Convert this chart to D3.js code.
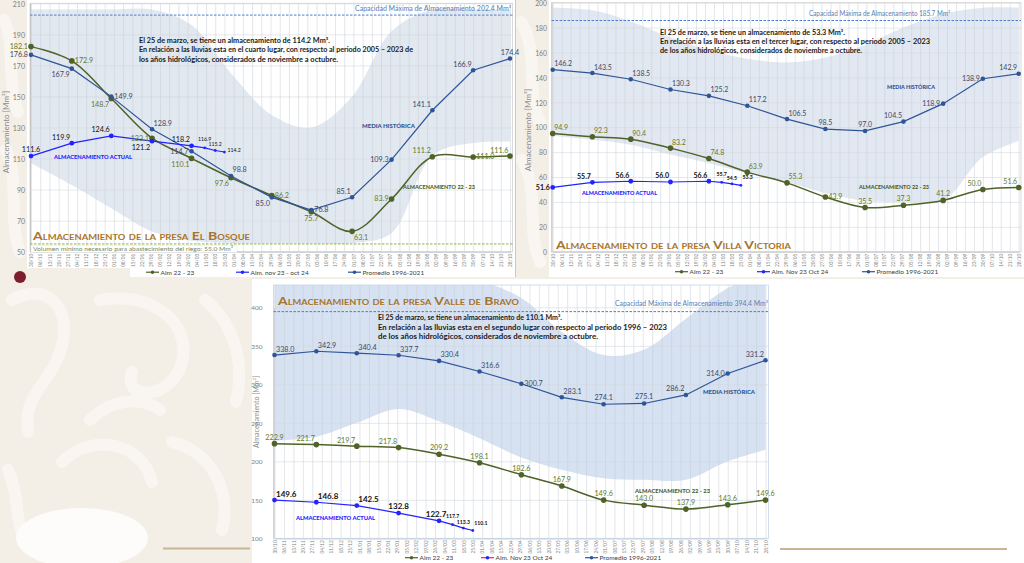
<!DOCTYPE html>
<html lang="es"><head><meta charset="utf-8">
<script src="https://cdn.jsdelivr.net/npm/d3@7/dist/d3.min.js"></script>
<style>
html,body{margin:0;padding:0;background:#f3eee6;}
svg{display:block;font-family:Lato,"Noto Sans",sans-serif;}
</style></head><body>
<svg id="chart" width="1024" height="563"></svg>
<script>
// ---------------- DATA ----------------
const xTickLabels = ["30/10","06/11","13/11","20/11","27/11","04/12","11/12","18/12","25/12","01/01","08/01","15/01","22/01","29/01","05/02","12/02","19/02","26/02","04/03","11/03","18/03","25/03","01/04","08/04","15/04","22/04","29/04","06/05","13/05","20/05","27/05","03/06","10/06","17/06","24/06","01/07","08/07","15/07","22/07","29/07","05/08","12/08","19/08","26/08","02/09","09/09","16/09","23/09","30/09","07/10","14/10","21/10","28/10"];
const monthDates = ["2023-10-30","2023-11-30","2023-12-30","2024-01-30","2024-02-29","2024-03-30","2024-04-30","2024-05-30","2024-06-30","2024-07-30","2024-08-30","2024-09-30","2024-10-28"];
const actualDates = ["2023-10-30","2023-11-30","2023-12-30","2024-01-30","2024-02-29","2024-03-10","2024-03-18","2024-03-25"];

// El Bosque
const bosquePromedio = [176.8,167.9,149.9,128.9,114.7,98.8,85.0,76.8,85.1,109.3,141.1,166.9,174.4];
const bosqueAlm2223  = [182.1,172.9,148.7,123.1,110.1,97.6,86.2,75.7,63.1,83.9,111.2,111.0,111.6];
const bosqueActual   = [111.6,119.9,124.6,121.2,118.2,116.9,115.2,114.2];
const bosqueHistMax  = [206,206,206,206,196,165,138,130,150,192,206,206,206];
const bosqueHistMin  = [107,93,78,63,57,55.5,55.3,55.3,55.5,62,112,120,121];
const bosqueYTicks   = [50,70,90,110,130,150,170,190,210];
const bosqueCapacidad = 202.4;
const bosqueMinimo = 55.0;

// Villa Victoria
const villaPromedio = [146.2,143.5,138.5,130.3,125.2,117.2,106.5,98.5,97.0,104.5,118.9,138.9,142.9];
const villaAlm2223  = [94.9,92.3,90.4,83.2,74.8,63.9,55.3,43.9,35.5,37.3,41.2,50.0,51.6];
const villaActual   = [51.6,55.7,56.6,56.0,56.6,55.7,54.5,53.3];
const villaHistMax  = [196,194,185,172,162,155,152,156,166,180,191,196,196];
const villaHistMin  = [93,90,86,78,71,63,56,47,41,40,41,76,89];
const villaYTicks   = [0,20,40,60,80,100,120,140,160,180,200];
const villaCapacidad = 185.7;

// Valle de Bravo
const bravoPromedio = [338.0,342.9,340.4,337.7,330.4,316.6,300.7,283.1,274.1,275.1,286.2,314.0,331.2];
const bravoAlm2223  = [222.9,221.7,219.7,217.8,209.2,198.1,182.6,167.9,149.6,143.0,137.9,143.6,149.6];
const bravoActual   = [149.6,146.8,142.5,132.8,122.7,117.7,113.3,110.1];
const bravoHistMax  = [445,445,445,445,445,435,412,368,338,345,385,425,445];
const bravoHistMin  = [227,232,250,268,252,230,205,189,178,176,176,200,215];
const bravoYTicks   = [100,150,200,250,300,350,400];
const bravoCapacidad = 394.4;

// ---------------- LAYOUT / STYLE ----------------
const C_PROM = "#2f5597", C_ALM = "#4f6228", C_ACT = "#2323ff";
const parse = d3.utcParse("%Y-%m-%d");
const startDate = parse(monthDates[0]), endDate = parse(monthDates[monthDates.length-1]);
const place = {
  l:[-3,2.4,"end"], r:[3,2.4,"start"], a:[0,-4,"middle"], b:[0,9,"middle"], ac:[-3,-4,"middle"],
  al:[-1.5,-3.5,"end"], ar:[1.5,-3.5,"start"], bl:[-2,8.5,"end"], br:[2,8.5,"start"]
};

const svg = d3.select("#chart");
const defs = svg.append("defs");

// background pattern
svg.append("rect").attr("width",1024).attr("height",563).attr("fill","#f3eee6");
const pat = svg.append("g").attr("fill","none").attr("stroke","#fbf9f6").attr("stroke-linecap","round").attr("stroke-width",12).attr("opacity",0.8);
["M12,300 C45,282 72,305 62,345 C52,385 22,392 28,432",
 "M100,300 C150,290 192,322 182,362 C172,400 122,402 132,372",
 "M205,300 C232,322 246,360 236,402",
 "M62,462 C92,432 142,442 152,482",
 "M172,442 C212,452 232,492 222,530",
 "M8,470 C22,500 12,530 32,548",
 "M90,420 C110,400 140,395 160,410",
 "M4,20 C16,42 6,82 18,112","M6,150 C20,180 8,222 20,252",
 "M521,22 C540,52 525,92 540,122","M522,160 C540,190 526,232 540,262"]
 .forEach(p=>pat.append("path").attr("d",p));
svg.append("ellipse").attr("cx",82).attr("cy",538).attr("rx",66).attr("ry",30).attr("fill","#fdfcfa");

// panels
svg.append("rect").attr("x",27).attr("y",0).attr("width",488).attr("height",268).attr("fill","#fff");
svg.append("rect").attr("x",130).attr("y",266).attr("width",385).attr("height",11).attr("fill","#fff");
svg.append("rect").attr("x",549).attr("y",0).attr("width",475).attr("height",277).attr("fill","#fff");
svg.append("rect").attr("x",252).attr("y",279).attr("width",772).attr("height",284).attr("fill","#fff");
svg.append("line").attr("x1",515.5).attr("x2",515.5).attr("y1",0).attr("y2",277).attr("stroke","#c8c8c8");
svg.append("line").attr("x1",163).attr("x2",250).attr("y1",548.5).attr("y2",548.5).attr("stroke","#c8b596").attr("stroke-width",2);
svg.append("line").attr("x1",780).attr("x2",1007).attr("y1",549).attr("y2",549).attr("stroke","#c8b596").attr("stroke-width",2);
// logo hint
svg.append("circle").attr("cx",20).attr("cy",277).attr("r",6).attr("fill","#7b1e2e");

function drawChart(c){
  const g = svg.append("g");
  const x = d3.scaleUtc().domain([startDate,endDate]).range([c.xFirst,c.xLast]);
  const y = d3.scaleLinear().domain(c.yDomain).range(c.yRange);
  const W = c.right-c.left, H = c.bottom-c.top;
  const clipId = "clip-"+c.id;
  defs.append("clipPath").attr("id",clipId).append("rect").attr("x",c.left).attr("y",c.top).attr("width",W).attr("height",H);
  const months = monthDates.map(parse);
  const actD = actualDates.map(parse);

  g.append("rect").attr("x",c.left).attr("y",c.top).attr("width",W).attr("height",H).attr("fill","#fff");
  // historic envelope
  g.append("path").datum(c.histMax).attr("clip-path",`url(#${clipId})`).attr("fill",c.shade)
    .attr("d", d3.area().x((d,i)=>x(months[i])).y1(d=>y(d)).y0((d,i)=>y(c.histMin[i])).curve(d3.curveCatmullRom.alpha(0.5)));

  // x axis (weekly grid + rotated labels)
  const tickDates = xTickLabels.map((_,i)=>d3.utcDay.offset(startDate,7*i));
  const xa = g.append("g").attr("transform",`translate(0,${c.bottom})`)
    .call(d3.axisBottom(x).tickValues(tickDates).tickFormat((d,i)=>xTickLabels[i]).tickSize(-H).tickSizeOuter(0));
  xa.attr("font-family","Lato, sans-serif").attr("font-size",4.8);
  xa.select(".domain").attr("stroke","#bfbfbf");
  xa.selectAll(".tick line").attr("stroke","#c6ccd4").attr("stroke-width",0.5);
  xa.selectAll(".tick text").attr("transform","rotate(-90)").attr("text-anchor","end")
    .attr("x",-2).attr("y",0).attr("dy","0.35em").attr("fill","#7f7f7f");

  // y axis
  const ya = g.append("g").attr("transform",`translate(${c.left},0)`)
    .call(d3.axisLeft(y).tickValues(c.yTicks).tickSize(-W).tickSizeOuter(0).tickPadding(c.yPad).tickFormat(d3.format("d")));
  ya.attr("font-family","Lato, sans-serif").attr("font-size",c.yFont);
  ya.select(".domain").attr("stroke","#bfbfbf");
  ya.selectAll(".tick line").attr("stroke","#d4d8de").attr("stroke-width",0.6);
  ya.selectAll(".tick text").attr("fill","#7f7f7f").attr("dy","0.4em");

  g.append("rect").attr("x",c.left).attr("y",c.top).attr("width",W).attr("height",H)
    .attr("fill","none").attr("stroke",c.border).attr("stroke-width",0.8);

  g.append("text").attr("transform",`translate(${c.yTitle[0]},${c.yTitle[1]}) rotate(-90)`)
    .attr("text-anchor","middle").attr("font-size",c.yTitle[2]).attr("fill","#8c8c8c").text("Almacenamiento [Mm³]");

  // capacity line
  g.append("line").attr("x1",c.left).attr("x2",c.right).attr("y1",y(c.capacidad)).attr("y2",y(c.capacidad))
    .attr("stroke","#4a7fd0").attr("stroke-width",1).attr("stroke-dasharray","2.5,1.5");
  g.append("text").attr("x",c.capLabel[0]).attr("y",c.capLabel[1]).attr("text-anchor",c.capLabel[2])
    .attr("font-size",6.8).attr("fill","#5b7fb5").attr("textLength",c.capLabel[3]).attr("lengthAdjust","spacingAndGlyphs")
    .text(`Capacidad Máxima de Almacenamiento ${c.capacidad.toFixed(1)} Mm³`);

  if (c.minimo !== undefined){
    g.append("line").attr("x1",c.left).attr("x2",c.right).attr("y1",y(c.minimo)).attr("y2",y(c.minimo))
      .attr("stroke","#8fb33a").attr("stroke-width",1).attr("stroke-dasharray","2.5,1.5");
    g.append("rect").attr("x",c.left+1).attr("y",y(c.minimo)+1.5).attr("width",206).attr("height",7).attr("fill","#fff")
      .attr("stroke","#dcdcdc").attr("stroke-width",0.4);
    g.append("text").attr("x",c.left+3).attr("y",y(c.minimo)+7.2).attr("font-size",6.3).attr("fill","#7d8560")
      .attr("textLength",200).attr("lengthAdjust","spacingAndGlyphs")
      .text(`Volumen mínimo necesario para abastecimiento del riego: ${c.minimo.toFixed(1)} Mm³`);
  }

  // title (small caps)
  g.append("text").attr("x",c.title[0]).attr("y",c.title[1]).attr("font-size",c.title[3]).attr("font-weight",700)
    .style("font-variant","small-caps").attr("fill","#a8742c")
    .attr("textLength",c.title[2]).attr("lengthAdjust","spacingAndGlyphs").text(c.titleText);

  // annotation
  c.note.forEach((t,i)=>{
    g.append("text").attr("x",c.noteX).attr("y",c.noteY[i]).attr("font-size",7.2).attr("font-weight",700)
      .attr("fill","#1a1a1a").attr("textLength",c.noteLen[i]).attr("lengthAdjust","spacingAndGlyphs").text(t);
  });

  // series
  const prom = c.prom.map((v,i)=>({d:months[i],v}));
  const alm = c.alm.map((v,i)=>({d:months[i],v}));
  const act = c.act.map((v,i)=>({d:actD[i],v,w:i>=5}));
  const ln = d3.line().x(p=>x(p.d)).y(p=>y(p.v));
  const lnS = d3.line().x(p=>x(p.d)).y(p=>y(p.v)).curve(d3.curveCatmullRom.alpha(0.5));
  g.append("path").datum(alm).attr("d",lnS).attr("fill","none").attr("stroke",C_ALM).attr("stroke-width",1.5);
  g.append("path").datum(prom).attr("d",ln).attr("fill","none").attr("stroke",C_PROM).attr("stroke-width",1.2);
  g.append("path").datum(act).attr("d",ln).attr("fill","none").attr("stroke",C_ACT).attr("stroke-width",1.2);
  g.selectAll(null).data(alm).join("circle").attr("cx",p=>x(p.d)).attr("cy",p=>y(p.v)).attr("r",2.8).attr("fill",C_ALM);
  g.selectAll(null).data(prom).join("circle").attr("cx",p=>x(p.d)).attr("cy",p=>y(p.v)).attr("r",2.3).attr("fill",C_PROM);
  g.selectAll(null).data(act).join("circle").attr("cx",p=>x(p.d)).attr("cy",p=>y(p.v)).attr("r",p=>p.w?1.4:2.4).attr("fill",C_ACT);

  function labels(data, pl, color, size, weight, smallSize){
    g.selectAll(null).data(data).join("text")
      .attr("x",(p,i)=>x(p.d)+place[pl[i]][0]).attr("y",(p,i)=>y(p.v)+place[pl[i]][1]-(p.w?(i%2)*2.5:0))
      .attr("text-anchor",(p,i)=>place[pl[i]][2]).attr("font-size",p=>p.w?smallSize:size).attr("font-weight",weight)
      .attr("fill",color).text(p=>p.v.toFixed(1));
  }
  labels(prom, c.promPl, "#3b4a66", c.lblFont, 400);
  labels(alm, c.almPl, "#66792a", c.lblFont, 400);
  labels(act, c.actPl, "#111", c.actFont, c.actWeight, 5.2);

  // series names
  c.names.forEach(n=>{
    g.append("text").attr("x",n[1]).attr("y",n[2]).attr("font-size",5.8).attr("font-weight",900).attr("fill",n[4])
      .attr("textLength",n[3]).attr("lengthAdjust","spacingAndGlyphs").text(n[0]);
  });

  // legend
  c.legend.forEach(it=>{
    g.append("line").attr("x1",it[1]).attr("x2",it[1]+13).attr("y1",c.legendY-2.3).attr("y2",c.legendY-2.3)
      .attr("stroke",it[2]).attr("stroke-width",1.2);
    g.append("circle").attr("cx",it[1]+6.5).attr("cy",c.legendY-2.3).attr("r",1.8).attr("fill",it[3]);
    g.append("text").attr("x",it[1]+14.5).attr("y",c.legendY).attr("font-size",6.5).attr("fill","#404040").text(it[0]);
  });
}

drawChart({
  id:"bosque", xFirst:31, xLast:510, yDomain:[50,210], yRange:[251.7,3.3],
  left:30, right:512.5, top:3.3, bottom:251.7, yTicks:bosqueYTicks, yPad:5, yFont:7,
  border:"#d0d0d0", shade:"#e2e8f0",
  yTitle:[9,132,8],
  histMax:bosqueHistMax, histMin:bosqueHistMin,
  capacidad:bosqueCapacidad, capLabel:[511,10.5,"end",156], minimo:bosqueMinimo,
  titleText:"Almacenamiento de la presa El  Bosque", title:[33,240,217,12],
  note:["El 25 de marzo, se tiene un almacenamiento de 114.2 Mm³.",
        "En relación a las lluvias esta en el cuarto lugar, con respecto al periodo 2005 – 2023 de",
        "los años hidrológicos, considerados de noviembre a octubre."],
  noteX:139, noteY:[43.3,52.3,61.5], noteLen:[191,274,199],
  prom:bosquePromedio, alm:bosqueAlm2223, act:bosqueActual,
  promPl:["l","bl","r","ar","l","ar","bl","r","al","l","al","al","a"],
  almPl:["l","r","bl","l","bl","bl","r","b","br","l","al","r","al"],
  actPl:["a","al","al","bl","al","a","a","r"],
  lblFont:7.2, actFont:7.2, actWeight:400,
  names:[["MEDIA HISTÓRICA",362,128,53,C_PROM],["ALMACENAMIENTO ACTUAL",54,159,78,C_ACT],["ALMACENAMIENTO 22 - 23",403,189,72,C_ALM]],
  legendY:274.5,
  legend:[["Alm 22 - 23",146,C_ALM,C_ALM],["Alm. nov 23 - oct 24",236,C_ACT,C_ACT],["Promedio 1996-2021",348,C_PROM,C_PROM]]
});

drawChart({
  id:"villa", xFirst:552.7, xLast:1018.7, yDomain:[0,200], yRange:[251.7,2.7],
  left:551.5, right:1021, top:2.7, bottom:251.7, yTicks:villaYTicks, yPad:4.5, yFont:6.8,
  border:"#d0d0d0", shade:"#e2e8f1",
  yTitle:[531,130,8],
  histMax:villaHistMax, histMin:villaHistMin,
  capacidad:villaCapacidad, capLabel:[809,16,"start",141],
  titleText:"Almacenamiento de la presa Villa  Victoria", title:[556,248.5,235,12],
  note:["El 25 de marzo, se tiene un almacenamiento de 53.3 Mm³.",
        "En relación a las lluvias esta en el tercer lugar, con respecto al periodo 2005 – 2023",
        "de los años hidrológicos, considerados de noviembre a octubre."],
  noteX:660, noteY:[34.5,43.5,52.5], noteLen:[185,270,202],
  prom:villaPromedio, alm:villaAlm2223, act:villaActual,
  promPl:["ar","ar","ar","ar","ar","ar","ar","a","a","al","l","l","al"],
  almPl:["ar","ar","ar","ar","ar","ar","ar","r","a","a","a","al","al"],
  actPl:["l","al","al","al","al","a","a","ar"],
  lblFont:7, actFont:7, actWeight:700,
  names:[["MEDIA HISTÓRICA",887,89,48,C_PROM],["ALMACENAMIENTO ACTUAL",582,195,75,C_ACT],["ALMACENAMIENTO 22 - 23",859,189,70,C_ALM]],
  legendY:274,
  legend:[["Alm 22 - 23",675,C_ALM,C_ALM],["Alm. Nov 23 Oct 24",757,C_ACT,C_ACT],["Promedio 1996-2021",862,C_PROM,C_PROM]]
});

drawChart({
  id:"bravo", xFirst:274.5, xLast:765.5, yDomain:[100,400], yRange:[538.3,307.3],
  left:273.5, right:768.5, top:285, bottom:538.3, yTicks:bravoYTicks, yPad:11, yFont:6.5,
  border:"#c6d4e8", shade:"#d6e1f1",
  yTitle:[259,412,7],
  histMax:bravoHistMax, histMin:bravoHistMin,
  capacidad:bravoCapacidad, capLabel:[768,306,"end",153],
  titleText:"Almacenamiento de la presa Valle de Bravo", title:[278,304.5,241,12],
  note:["El 25 de marzo, se tiene un almacenamiento de 110.1 Mm³.",
        "En relación a las lluvias esta en el segundo lugar con respecto al periodo 1996 – 2023",
        "de los años hidrológicos, considerados de noviembre a octubre."],
  noteX:378, noteY:[320,329.5,339], noteLen:[184,289,220],
  prom:bravoPromedio, alm:bravoAlm2223, act:bravoActual,
  promPl:["ar","ar","ar","ar","ar","ar","r","ar","a","a","al","l","al"],
  almPl:["a","al","al","al","a","a","a","a","a","a","a","a","a"],
  actPl:["ar","ar","ar","a","ac","a","a","ar"],
  lblFont:7.2, actFont:8, actWeight:700,
  names:[["MEDIA HISTÓRICA",703,394,52,C_PROM],["ALMACENAMIENTO ACTUAL",296,520,79,C_ACT],["ALMACENAMIENTO 22 - 23",635,493,75,C_ALM]],
  legendY:560,
  legend:[["Alm 22 - 23",405,C_ALM,C_ALM],["Alm. Nov 23 Oct 24",481,"#ff2020",C_ACT],["Promedio 1996-2021",585,C_PROM,C_PROM]]
});
</script>
</body></html>
